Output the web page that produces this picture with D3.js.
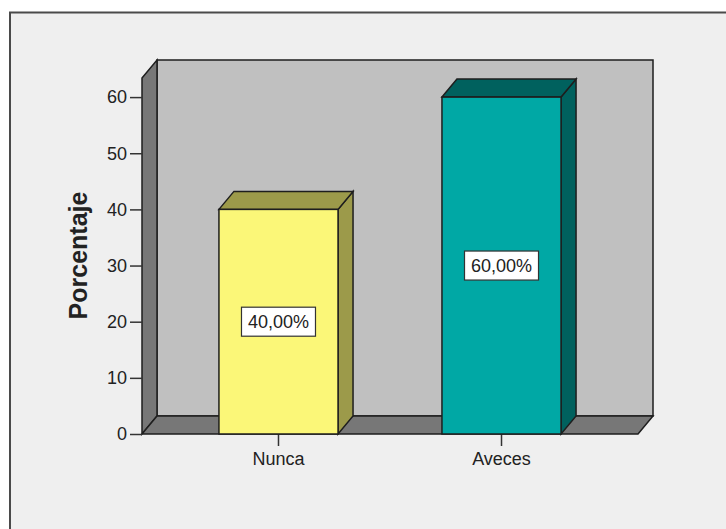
<!DOCTYPE html>
<html>
<head>
<meta charset="utf-8">
<script src="https://cdn.jsdelivr.net/npm/d3@7"></script>
<style>
  html, body { margin: 0; padding: 0; background: #ffffff; }
  svg { display: block; }
  text { font-family: "Liberation Sans", Arial, sans-serif; fill: #222; }
</style>
</head>
<body>
<svg id="chart" width="726" height="529"></svg>
<script>
// Frequency of responses, in percent
const categories = ["Nunca", "Aveces"];
const percentages = [40, 60];
const valueLabels = ["40,00%", "60,00%"];
const yTicks = [0, 10, 20, 30, 40, 50, 60];
const frontColors = ["#fbf778", "#00a8a5"];
const shadeColors = ["#9c9a4a", "#00615e"];

const svg = d3.select("#chart");

// Outer frame of the chart area
svg.append("rect")
  .attr("x", 10).attr("y", 12.5)
  .attr("width", 760).attr("height", 560)
  .attr("fill", "#efefef")
  .attr("stroke", "#4a4a4a").attr("stroke-width", 2);

// Plot geometry (front plane) and 3D depth offset
const plotLeft = 142, plotRight = 638, plotBottom = 434, plotTop = 78;
const dx = 15, dy = -18;

const x = d3.scaleBand()
  .domain(categories)
  .range([plotLeft, plotRight])
  .paddingInner(0.466)
  .paddingOuter(0.345);

const y = d3.scaleLinear()
  .domain([0, 63.4])
  .range([plotBottom, plotTop]);

const edge = "#1e1e1e";
const poly = pts => pts.map(p => p.join(",")).join(" ");

// Back wall
svg.append("polygon")
  .attr("points", poly([[plotLeft + dx, plotTop + dy], [plotRight + dx, plotTop + dy], [plotRight + dx, plotBottom + dy], [plotLeft + dx, plotBottom + dy]]))
  .attr("fill", "#c0c0c0").attr("stroke", edge).attr("stroke-width", 1.5);

// Left side wall
svg.append("polygon")
  .attr("points", poly([[plotLeft, plotTop], [plotLeft + dx, plotTop + dy], [plotLeft + dx, plotBottom + dy], [plotLeft, plotBottom]]))
  .attr("fill", "#777777").attr("stroke", edge).attr("stroke-width", 1.5);

// Floor
svg.append("polygon")
  .attr("points", poly([[plotLeft, plotBottom], [plotLeft + dx, plotBottom + dy], [plotRight + dx, plotBottom + dy], [plotRight, plotBottom]]))
  .attr("fill", "#777777").attr("stroke", edge).attr("stroke-width", 1.5);

// Y axis
const yAxis = svg.append("g")
  .attr("transform", `translate(${plotLeft},0)`)
  .call(d3.axisLeft(y).tickValues(yTicks).tickSize(12).tickPadding(3));
yAxis.select(".domain").remove();
yAxis.selectAll(".tick line").attr("stroke", "#333").attr("stroke-width", 1.5);
yAxis.selectAll(".tick text")
  .style("font-size", "18px")
  .style("font-family", "Liberation Sans, Arial, sans-serif")
  .attr("fill", "#222");

// X axis
const xAxis = svg.append("g")
  .attr("transform", `translate(0,${plotBottom})`)
  .call(d3.axisBottom(x).tickSize(12).tickPadding(6));
xAxis.select(".domain").remove();
xAxis.selectAll(".tick line").attr("stroke", "#333").attr("stroke-width", 1.5);
xAxis.selectAll(".tick text")
  .style("font-size", "18px")
  .style("font-family", "Liberation Sans, Arial, sans-serif")
  .attr("fill", "#222");

// Bars (front face, top face, right side)
const bars = svg.append("g").selectAll("g")
  .data(categories.map((c, i) => ({ c, v: percentages[i], i })))
  .join("g");

bars.each(function(d) {
  const g = d3.select(this);
  const x0 = x(d.c), x1 = x(d.c) + x.bandwidth();
  const yt = y(d.v), yb = y(0);
  g.append("polygon")
    .attr("points", poly([[x1, yt], [x1 + dx, yt + dy], [x1 + dx, yb + dy], [x1, yb]]))
    .attr("fill", shadeColors[d.i]).attr("stroke", edge).attr("stroke-width", 1.5);
  g.append("polygon")
    .attr("points", poly([[x0, yt], [x0 + dx, yt + dy], [x1 + dx, yt + dy], [x1, yt]]))
    .attr("fill", shadeColors[d.i]).attr("stroke", edge).attr("stroke-width", 1.5);
  g.append("rect")
    .attr("x", x0).attr("y", yt)
    .attr("width", x1 - x0).attr("height", yb - yt)
    .attr("fill", frontColors[d.i]).attr("stroke", edge).attr("stroke-width", 1.5);

  // Value label box at the middle of the bar
  const cx = (x0 + x1) / 2, cy = y(d.v / 2);
  const boxW = 74, boxH = 29;
  g.append("rect")
    .attr("x", cx - boxW / 2).attr("y", cy - boxH / 2)
    .attr("width", boxW).attr("height", boxH)
    .attr("fill", "#ffffff").attr("stroke", "#333").attr("stroke-width", 1.2);
  g.append("text")
    .attr("x", cx).attr("y", cy)
    .attr("text-anchor", "middle").attr("dy", "0.36em")
    .style("font-size", "18px")
    .text(valueLabels[d.i]);
});

// Y axis title
svg.append("text")
  .attr("transform", "translate(87,255.5) rotate(-90)")
  .attr("text-anchor", "middle")
  .style("font-size", "25px").style("font-weight", "bold")
  .attr("fill", "#111")
  .text("Porcentaje");
</script>
</body>
</html>
